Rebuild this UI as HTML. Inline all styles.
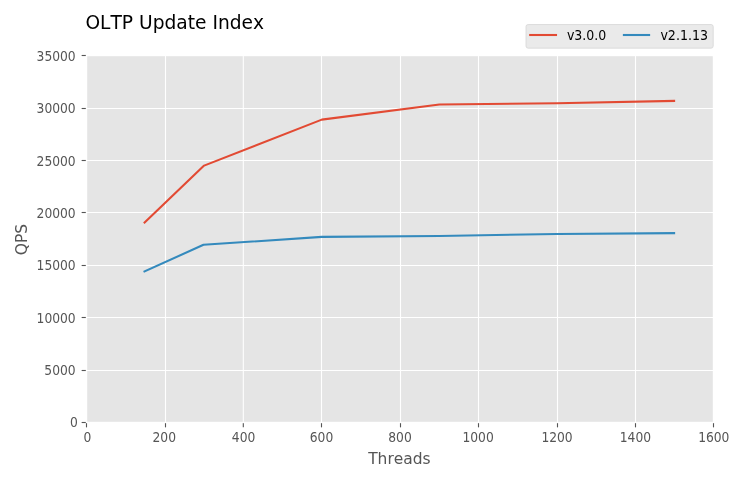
<!DOCTYPE html>
<html lang="en"><head><meta charset="utf-8"><title>OLTP Update Index</title>
<style>html,body{margin:0;padding:0;background:#fff;}body{width:743px;height:481px;overflow:hidden;}svg{display:block;}text{font-family:"DejaVu Sans","Liberation Sans",sans-serif;font-kerning:none;}</style></head><body>
<svg width="743" height="481" viewBox="0 0 743 481">
<rect x="0" y="0" width="743" height="481" fill="#ffffff"/>
<rect x="86.5" y="55.5" width="627.00" height="367.00" fill="#e5e5e5"/>
<g stroke="#ffffff" stroke-width="1.11" fill="none">
<line x1="86.50" y1="55.5" x2="86.50" y2="422.5"/>
<line x1="165.50" y1="55.5" x2="165.50" y2="422.5"/>
<line x1="243.30" y1="55.5" x2="243.30" y2="422.5"/>
<line x1="321.50" y1="55.5" x2="321.50" y2="422.5"/>
<line x1="400.50" y1="55.5" x2="400.50" y2="422.5"/>
<line x1="478.50" y1="55.5" x2="478.50" y2="422.5"/>
<line x1="557.50" y1="55.5" x2="557.50" y2="422.5"/>
<line x1="635.50" y1="55.5" x2="635.50" y2="422.5"/>
<line x1="713.50" y1="55.5" x2="713.50" y2="422.5"/>
<line x1="86.5" y1="422.50" x2="713.5" y2="422.50"/>
<line x1="86.5" y1="370.50" x2="713.5" y2="370.50"/>
<line x1="86.5" y1="317.50" x2="713.5" y2="317.50"/>
<line x1="86.5" y1="265.50" x2="713.5" y2="265.50"/>
<line x1="86.5" y1="212.50" x2="713.5" y2="212.50"/>
<line x1="86.5" y1="160.50" x2="713.5" y2="160.50"/>
<line x1="86.5" y1="108.50" x2="713.5" y2="108.50"/>
<line x1="86.5" y1="55.50" x2="713.5" y2="55.50"/>
</g>
<polyline points="144.60,222.45 204.10,165.60 321.80,119.60 439.40,104.50 557.00,103.20 674.10,100.90" fill="none" stroke="#e24a33" stroke-width="2.08" stroke-linecap="square" stroke-linejoin="round"/>
<polyline points="144.50,271.40 203.50,244.80 321.80,236.90 439.40,236.00 557.00,234.00 674.10,233.10" fill="none" stroke="#348abd" stroke-width="2.08" stroke-linecap="square" stroke-linejoin="round"/>
<g stroke="#555555" stroke-width="1.11" fill="none">
<line x1="86.50" y1="422.5" x2="86.50" y2="427.36"/>
<line x1="165.50" y1="422.5" x2="165.50" y2="427.36"/>
<line x1="243.30" y1="422.5" x2="243.30" y2="427.36"/>
<line x1="321.50" y1="422.5" x2="321.50" y2="427.36"/>
<line x1="400.50" y1="422.5" x2="400.50" y2="427.36"/>
<line x1="478.50" y1="422.5" x2="478.50" y2="427.36"/>
<line x1="557.50" y1="422.5" x2="557.50" y2="427.36"/>
<line x1="635.50" y1="422.5" x2="635.50" y2="427.36"/>
<line x1="713.50" y1="422.5" x2="713.50" y2="427.36"/>
<line x1="81.64" y1="422.50" x2="86.5" y2="422.50"/>
<line x1="81.64" y1="370.50" x2="86.5" y2="370.50"/>
<line x1="81.64" y1="317.50" x2="86.5" y2="317.50"/>
<line x1="81.64" y1="265.50" x2="86.5" y2="265.50"/>
<line x1="81.64" y1="212.50" x2="86.5" y2="212.50"/>
<line x1="81.64" y1="160.50" x2="86.5" y2="160.50"/>
<line x1="81.64" y1="108.50" x2="86.5" y2="108.50"/>
<line x1="81.64" y1="55.50" x2="86.5" y2="55.50"/>
</g>
<rect x="86.5" y="55.5" width="627.00" height="367.00" fill="none" stroke="#ffffff" stroke-width="1.39"/>
<g fill="#555555" font-size="12.9px">
<text transform="translate(87.30,441.7) scale(0.955,1.06)" text-anchor="middle">0</text>
<text transform="translate(164.28,441.7) scale(0.955,1.06)" text-anchor="middle">200</text>
<text transform="translate(243.55,441.7) scale(0.955,1.06)" text-anchor="middle">400</text>
<text transform="translate(321.53,441.7) scale(0.955,1.06)" text-anchor="middle">600</text>
<text transform="translate(400.00,441.7) scale(0.955,1.06)" text-anchor="middle">800</text>
<text transform="translate(478.07,441.7) scale(0.955,1.06)" text-anchor="middle">1000</text>
<text transform="translate(557.05,441.7) scale(0.955,1.06)" text-anchor="middle">1200</text>
<text transform="translate(635.42,441.7) scale(0.955,1.06)" text-anchor="middle">1400</text>
<text transform="translate(713.80,441.7) scale(0.955,1.06)" text-anchor="middle">1600</text>
<text transform="translate(77.90,426.70) scale(0.955,1.06)" text-anchor="end">0</text>
<text transform="translate(75.70,375.27) scale(0.955,1.06)" text-anchor="end">5000</text>
<text transform="translate(75.70,322.84) scale(0.955,1.06)" text-anchor="end">10000</text>
<text transform="translate(75.70,270.41) scale(0.955,1.06)" text-anchor="end">15000</text>
<text transform="translate(75.70,217.99) scale(0.955,1.06)" text-anchor="end">20000</text>
<text transform="translate(75.70,165.56) scale(0.955,1.06)" text-anchor="end">25000</text>
<text transform="translate(75.70,113.13) scale(0.955,1.06)" text-anchor="end">30000</text>
<text transform="translate(75.70,60.70) scale(0.955,1.06)" text-anchor="end">35000</text>
</g>
<text transform="translate(399.4,463.7) scale(1,1.06)" text-anchor="middle" font-size="15.48px" fill="#555555">Threads</text>
<text transform="translate(27.0,239.6) rotate(-90) scale(1,1.06)" text-anchor="middle" font-size="15.48px" fill="#555555">QPS</text>
<text x="85.4" y="29.2" font-size="18.65px" fill="#000000">OLTP Update Index</text>
<rect x="526.0" y="24.55" width="187.2" height="23.6" rx="2.1" ry="2.1" fill="#eaeaea" stroke="#d4d4d4" stroke-width="0.75"/>
<line x1="530.2" y1="35" x2="556.0" y2="35" stroke="#e24a33" stroke-width="2.08" stroke-linecap="square"/>
<line x1="623.9" y1="35" x2="649.1" y2="35" stroke="#348abd" stroke-width="2.08" stroke-linecap="square"/>
<text transform="translate(566.9,39.8) scale(0.975,1.06)" font-size="12.9px" fill="#000000">v3.0.0</text>
<text transform="translate(660.4,39.8) scale(0.98,1.06)" font-size="12.9px" fill="#000000">v2.1.13</text>
</svg></body></html>
